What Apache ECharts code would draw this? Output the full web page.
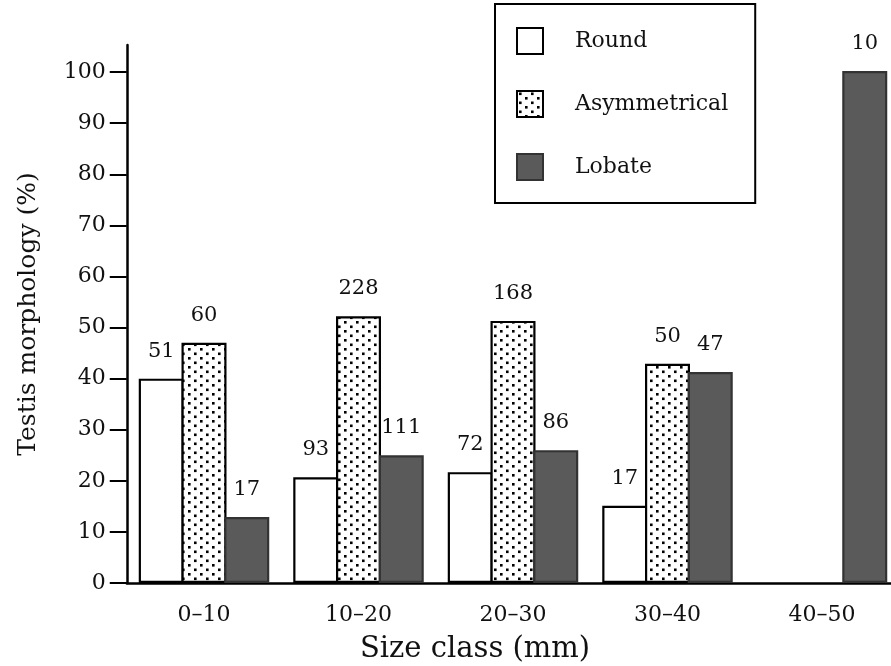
<!DOCTYPE html>
<html>
<head>
<meta charset="utf-8">
<script src="https://cdn.jsdelivr.net/npm/echarts@6/dist/echarts.min.js"></script>
<style>html,body{margin:0;padding:0;background:#fff;}#c{width:891px;height:666px;}</style>
</head>
<body>
<div id="c"></div>
<script>
var categories = ['0–10', '10–20', '20–30', '30–40', '40–50'];
var roundVals = [40, 20.7, 21.7, 15.1, null];
var asymVals = [47, 52.2, 51.3, 42.9, null];
var lobateVals = [12.9, 25, 26, 41.3, 100.2];
var roundCounts = ['51', '93', '72', '17', ''];
var asymCounts = ['60', '228', '168', '50', ''];
var lobateCounts = ['17', '111', '86', '47', '10'];
var yTicks = [0, 10, 20, 30, 40, 50, 60, 70, 80, 90, 100];

var FONT = 'DejaVu Serif';
var chart = echarts.init(document.getElementById('c'));

var pc = document.createElement('canvas');
pc.width = 12; pc.height = 9;
var ctx = pc.getContext('2d');
ctx.fillStyle = '#fff'; ctx.fillRect(0, 0, 12, 9);
ctx.fillStyle = '#000';
ctx.fillRect(2, 1.5, 2.6, 2.6);
ctx.fillRect(8, 6, 2.6, 2.6);
var dotPattern = { image: pc, repeat: 'repeat' };

function lbl(counts) {
  return {
    show: true, position: 'top', distance: 17,
    fontFamily: FONT, fontSize: 21, color: '#111',
    formatter: function (p) { return counts[p.dataIndex]; }
  };
}

chart.setOption({
  animation: false,
  backgroundColor: '#fff',
  grid: { left: 126.75, width: 772.5, top: 45, height: 538, containLabel: false, outerBoundsMode: 'none' },
  legend: {
    orient: 'vertical', left: 495, top: 4,
    padding: [23, 27, 22, 21],
    borderColor: '#000', borderWidth: 2,
    itemWidth: 26, itemHeight: 26, itemGap: 35,
    icon: 'rect',
    textStyle: { fontFamily: FONT, fontSize: 22, color: '#111', padding: [0, 0, 0, 27] },
    data: ['Round', 'Asymmetrical', 'Lobate']
  },
  xAxis: {
    type: 'category', data: categories,
    boundaryGap: true,
    axisLine: { lineStyle: { color: '#000', width: 2.5 } },
    axisTick: { alignWithLabel: true, length: 13, lineStyle: { color: '#000', width: 2.5 } },
    axisLabel: { margin: 21, fontFamily: FONT, fontSize: 22, color: '#111' },
    name: 'Size class (mm)', nameLocation: 'middle', nameGap: 52,
    nameTextStyle: { fontFamily: FONT, fontSize: 29, color: '#111', padding: [0, 76, 0, 0] }
  },
  yAxis: {
    type: 'value', min: 0, max: 105.3,
    axisLine: { show: true, lineStyle: { color: '#000', width: 2.5 } },
    axisTick: { show: true, length: 17, customValues: yTicks, lineStyle: { color: '#000', width: 2 } },
    axisLabel: { margin: 21, customValues: yTicks, fontFamily: FONT, fontSize: 22, color: '#111' },
    splitLine: { show: false },
    name: 'Testis morphology (%)', nameLocation: 'middle', nameGap: 86,
    nameTextStyle: { fontFamily: FONT, fontSize: 25, color: '#111' }
  },
  series: [
    { name: 'Round', type: 'bar', data: roundVals, barWidth: 45, barGap: '-5%',
      itemStyle: { color: '#fff', borderColor: '#000', borderWidth: 2.2 }, label: lbl(roundCounts) },
    { name: 'Asymmetrical', type: 'bar', data: asymVals, barWidth: 45, barGap: '-5%',
      itemStyle: { color: dotPattern, borderColor: '#000', borderWidth: 2.2 }, label: lbl(asymCounts) },
    { name: 'Lobate', type: 'bar', data: lobateVals, barWidth: 45, barGap: '-5%',
      itemStyle: { color: '#5a5a5a', borderColor: '#333', borderWidth: 2.2 }, label: lbl(lobateCounts) }
  ]
});
</script>
</body>
</html>
